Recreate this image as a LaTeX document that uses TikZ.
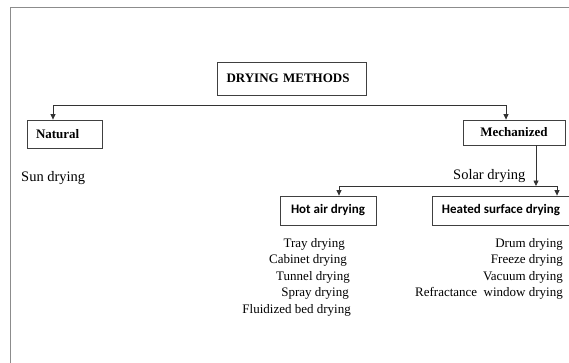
\documentclass[tikz,border=0pt]{standalone}
\usepackage{fontspec}
\setmainfont{Liberation Serif}
\newfontfamily\calfont{Carlito}
\usetikzlibrary{arrows.meta}
\begin{document}
\begin{tikzpicture}[x=1pt,y=-1pt,
  box/.style={draw=black!75, line width=0.8pt, inner sep=0pt, font=\fontsize{13}{15}\selectfont\bfseries},
  calbox/.style={box, font=\fontsize{13}{15}\selectfont\calfont\bfseries},
  arr/.style={draw=black!80, line width=0.8pt, -{Triangle[length=5.5pt,width=5pt]}},
  item/.style={inner sep=0pt, anchor=base east, font=\fontsize{13}{15}\selectfont},
  itemw/.style={inner sep=0pt, anchor=base west, font=\fontsize{14.5}{16}\selectfont}]
\useasboundingbox (0,0) rectangle (569,362);
\draw[black!45, line width=1.4pt] (10.5,372) -- (10.5,7.5) -- (580,7.5);

\node[box, text width=130pt, inner xsep=9.5pt, minimum height=33pt, align=left] (dm) at (291.5,78.5) {DRYING METHODS};
\node[box, text width=57pt, inner xsep=9pt, minimum height=28pt, align=left] (nat) at (64.5,134) {Natural};
\node[box, minimum width=102pt, minimum height=25pt] (mech) at (514,132.5) {Mechanized};
\node[calbox, minimum width=96pt, minimum height=29pt] (hot) at (328,210.5) {Hot air drying};
\node[calbox, minimum width=138pt, minimum height=29pt] (heat) at (501,210.5) {Heated surface drying};

\coordinate (b1) at (53,105);
\coordinate (b2) at (506,105);
\draw[arr] (b2) -- (b1) -- (b1 |- nat.north);
\draw[arr] (b2) -- (b2 |- mech.north);

\coordinate (m1) at (536,186);
\draw[arr] (mech.south -| m1) -- (m1);
\coordinate (c1) at (339,186);
\coordinate (c2) at (557,186);
\draw[arr] (c2) -- (c1) -- (c1 |- hot.north);
\draw[arr] (c2) -- (c2 |- heat.north);

\node[itemw] (sun) at (21,181) {Sun drying};
\node[itemw] (solar) at (453,179) {Solar drying};

\node[item] (h1) at (345,247) {Tray drying};
\node[item] (h2) at (347,263.5) {Cabinet drying};
\node[item] (h3) at (350,280) {Tunnel drying};
\node[item] (h4) at (349,296.5) {Spray drying};
\node[item] (h5) at (351,313.5) {Fluidized bed drying};

\node[item] (s1) at (563,247) {Drum drying};
\node[item] (s2) at (563,263.5) {Freeze drying};
\node[item] (s3) at (563,280) {Vacuum drying};
\node[item] (s4) at (563,296.5) {Refractance\ \ window drying};
\end{tikzpicture}
\end{document}
